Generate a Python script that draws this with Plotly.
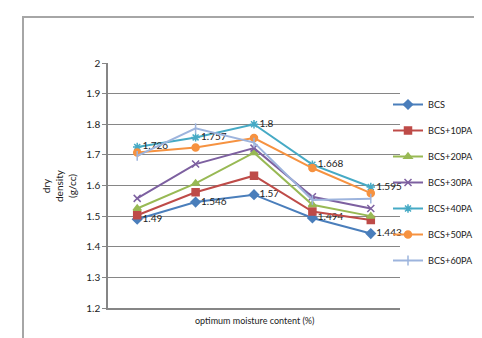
import plotly.graph_objects as go

categories = [1, 2, 3, 4, 5]
series_names = ["BCS", "BCS+10PA", "BCS+20PA", "BCS+30PA", "BCS+40PA", "BCS+50PA", "BCS+60PA"]
bcs = [1.49, 1.546, 1.57, 1.494, 1.443]
bcs10 = [1.503, 1.578, 1.632, 1.515, 1.487]
bcs20 = [1.525, 1.607, 1.707, 1.537, 1.50]
bcs30 = [1.558, 1.670, 1.722, 1.563, 1.525]
bcs40 = [1.726, 1.757, 1.8, 1.668, 1.595]
bcs50 = [1.708, 1.724, 1.755, 1.657, 1.575]
bcs60 = [1.697, 1.787, 1.740, 1.553, 1.557]
values = [bcs, bcs10, bcs20, bcs30, bcs40, bcs50, bcs60]
labeled = {"BCS", "BCS+40PA"}
y_ticks = [1.2, 1.3, 1.4, 1.5, 1.6, 1.7, 1.8, 1.9, 2]

colors = ["#4A7EBB", "#BE4B48", "#98B954", "#7D60A0", "#46AAC5", "#F69240", "#9DB4DD"]
symbols = ["diamond", "square", "triangle-up", "x-thin-open", "asterisk-open", "circle", "line-ns-open"]

FONT = "Lato, 'DejaVu Sans Condensed', sans-serif"

fig = go.Figure()
for i, (name, vals) in enumerate(zip(series_names, values)):
    show_text = name in labeled
    fig.add_trace(go.Scatter(
        x=categories, y=vals, name=name,
        mode="lines+markers+text" if show_text else "lines+markers",
        text=[f"{v:g}" for v in vals] if show_text else None,
        textposition="middle right",
        textfont=dict(family=FONT, size=10, color="#222"),
        cliponaxis=False,
        line=dict(color=colors[i], width=2),
        marker=dict(symbol=symbols[i], size=7, color=colors[i],
                    line=dict(color=colors[i], width=1.5)),
        legendgroup=name,
    ))

W, H = 482, 338
L, R, T, B = 100, 90, 55, 38
pw, ph = W - L - R, H - T - B

def px2paper(x, y):
    return (x - L) / pw, (H - B - y) / ph

fx0, fy0 = px2paper(15, 9)
fig.add_shape(type="rect", xref="paper", yref="paper",
              x0=fx0, y0=-1, x1=2, y1=fy0,
              line=dict(color="#A6A6A6", width=2), layer="below")

ax, ay = px2paper(51, 178)
fig.add_annotation(xref="paper", yref="paper", x=ax, y=ay,
                   xanchor="center", yanchor="middle",
                   text="dry<br>density<br>(g/cc)", textangle=-90, showarrow=False,
                   font=dict(family=FONT, size=10, color="#222"))
tx, ty = px2paper(246, 312)
fig.add_annotation(xref="paper", yref="paper", x=tx, y=ty,
                   xanchor="center", yanchor="middle",
                   text="optimum moisture content (%)", showarrow=False,
                   font=dict(family=FONT, size=9, color="#222"))

lx, ly = px2paper(380, 82)
fig.update_layout(
    width=W, height=H,
    margin=dict(l=L, r=R, t=T, b=B, autoexpand=False),
    paper_bgcolor="white", plot_bgcolor="white",
    font=dict(family=FONT, size=10, color="#222"),
    showlegend=True,
    legend=dict(x=lx, y=ly, xanchor="left", yanchor="top",
                font=dict(family=FONT, size=9.2, color="#222"),
                tracegroupgap=7, itemwidth=30, bgcolor="rgba(0,0,0,0)"),
    xaxis=dict(range=[0.5, 5.5], showticklabels=False, showgrid=False,
               zeroline=False, showline=True, linecolor="#868686", linewidth=1.5,
               ticks=""),
    yaxis=dict(range=[1.2, 2.0], tickvals=y_ticks, ticktext=[f"{v:g}" for v in y_ticks],
               showgrid=True, gridcolor="#868686", gridwidth=1,
               zeroline=False, showline=True, linecolor="#868686", linewidth=1.5,
               ticks="outside", ticklen=4, tickcolor="#868686",
               tickfont=dict(family=FONT, size=10, color="#222")),
)

fig.write_html("out.html")
